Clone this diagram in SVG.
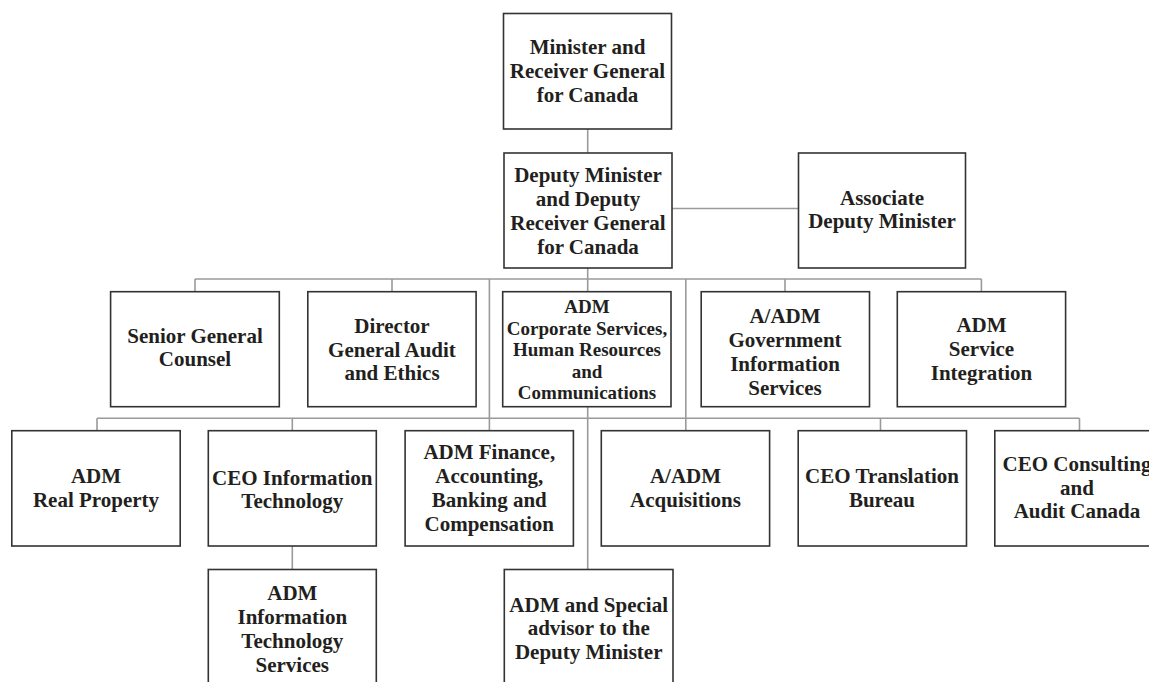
<svg xmlns="http://www.w3.org/2000/svg" width="1149" height="682" viewBox="0 0 1149 682">
<style>
.box{fill:#fff;stroke:#333;stroke-width:1.6}
.t{font-family:"Liberation Serif","Times New Roman",serif;font-weight:bold;font-size:21px;fill:#231f20;text-anchor:middle}
.s{font-size:19px}
.c{stroke:#9a9a9a;stroke-width:1.6;fill:none}
</style>
<rect width="1149" height="682" fill="#fff"/>
<g id="connectors">
<path class="c" d="M587.7 129V153"/>
<path class="c" d="M672 208.5H798.5"/>
<path class="c" d="M587.7 268V291.7"/>
<path class="c" d="M587.7 406.7V569.5"/>
<path class="c" d="M195 279H981.4"/>
<path class="c" d="M195 279V291.7M392 279V291.7M785 279V291.7M981.4 279V291.7"/>
<path class="c" d="M489.4 279V430.7M685.8 279V430.7"/>
<path class="c" d="M97 418.3H1079.5"/>
<path class="c" d="M97 418.3V430.7M292.3 418.3V430.7M880.5 418.3V430.7M1079.5 418.3V430.7"/>
<path class="c" d="M292.3 546V569.5"/>
</g>
<g id="n-minister"><rect class="box" x="503.5" y="13.5" width="168" height="115.5"/>
<text class="t" x="587.5"><tspan x="587.5" y="53.5">Minister and</tspan><tspan x="587.5" y="77.5">Receiver General</tspan><tspan x="587.5" y="101.5">for Canada</tspan></text></g>
<g id="n-deputy"><rect class="box" x="504" y="153" width="168" height="115"/>
<text class="t"><tspan x="588" y="181.5">Deputy Minister</tspan><tspan x="588" y="205.5">and Deputy</tspan><tspan x="588" y="229.5">Receiver General</tspan><tspan x="588" y="253.5">for Canada</tspan></text></g>
<g id="n-associate"><rect class="box" x="798.5" y="153" width="167" height="115"/>
<text class="t"><tspan x="882" y="204.5">Associate</tspan><tspan x="882" y="228">Deputy Minister</tspan></text></g>
<g id="n-senior"><rect class="box" x="110.6" y="291.7" width="168.7" height="115"/>
<text class="t"><tspan x="195" y="342.5">Senior General</tspan><tspan x="195" y="366">Counsel</tspan></text></g>
<g id="n-director"><rect class="box" x="307.8" y="291.7" width="168.3" height="115"/>
<text class="t"><tspan x="392" y="332.5">Director</tspan><tspan x="392" y="356.5">General Audit</tspan><tspan x="392" y="380">and Ethics</tspan></text></g>
<g id="n-corporate"><rect class="box" x="502.7" y="291.7" width="168.3" height="115"/>
<text class="t s"><tspan x="587" y="313.3">ADM</tspan><tspan x="587" y="334.8">Corporate Services,</tspan><tspan x="587" y="356.3">Human Resources</tspan><tspan x="587" y="377.8">and</tspan><tspan x="587" y="399.3">Communications</tspan></text></g>
<g id="n-gis"><rect class="box" x="701.2" y="291.7" width="168.3" height="115"/>
<text class="t"><tspan x="785" y="323">A/ADM</tspan><tspan x="785" y="347">Government</tspan><tspan x="785" y="371">Information</tspan><tspan x="785" y="394.5">Services</tspan></text></g>
<g id="n-service"><rect class="box" x="897.3" y="291.7" width="168.3" height="115"/>
<text class="t"><tspan x="981.5" y="331.5">ADM</tspan><tspan x="981.5" y="356">Service</tspan><tspan x="981.5" y="379.5">Integration</tspan></text></g>
<g id="n-realproperty"><rect class="box" x="11.8" y="430.7" width="168.4" height="115.3"/>
<text class="t"><tspan x="96" y="482.7">ADM</tspan><tspan x="96" y="507">Real Property</tspan></text></g>
<g id="n-ceoit"><rect class="box" x="208.3" y="430.7" width="168" height="115.3"/>
<text class="t"><tspan x="292.3" y="484.5">CEO Information</tspan><tspan x="292.3" y="508.3">Technology</tspan></text></g>
<g id="n-finance"><rect class="box" x="405.1" y="430.7" width="168.3" height="115.3"/>
<text class="t"><tspan x="489.3" y="459.3">ADM Finance,</tspan><tspan x="489.3" y="483.3">Accounting,</tspan><tspan x="489.3" y="507.3">Banking and</tspan><tspan x="489.3" y="531">Compensation</tspan></text></g>
<g id="n-acquisitions"><rect class="box" x="601.3" y="430.7" width="168.3" height="115.3"/>
<text class="t"><tspan x="685.5" y="482.7">A/ADM</tspan><tspan x="685.5" y="506.7">Acquisitions</tspan></text></g>
<g id="n-translation"><rect class="box" x="798.2" y="430.7" width="168.3" height="115.3"/>
<text class="t"><tspan x="882" y="483.3">CEO Translation</tspan><tspan x="882" y="507.3">Bureau</tspan></text></g>
<g id="n-consulting"><rect class="box" x="994.8" y="430.7" width="168" height="115.3"/>
<text class="t"><tspan x="1077" y="470.7">CEO Consulting</tspan><tspan x="1077" y="495">and</tspan><tspan x="1077" y="518.3">Audit Canada</tspan></text></g>
<g id="n-itservices"><rect class="box" x="208.3" y="569.5" width="168" height="125"/>
<text class="t"><tspan x="292.3" y="600">ADM</tspan><tspan x="292.3" y="623.5">Information</tspan><tspan x="292.3" y="647.5">Technology</tspan><tspan x="292.3" y="671.5">Services</tspan></text></g>
<g id="n-special"><rect class="box" x="504.3" y="569.5" width="168.7" height="125"/>
<text class="t"><tspan x="588.7" y="611.7">ADM and Special</tspan><tspan x="588.7" y="635">advisor to the</tspan><tspan x="588.7" y="658.5">Deputy Minister</tspan></text></g>
</svg>
